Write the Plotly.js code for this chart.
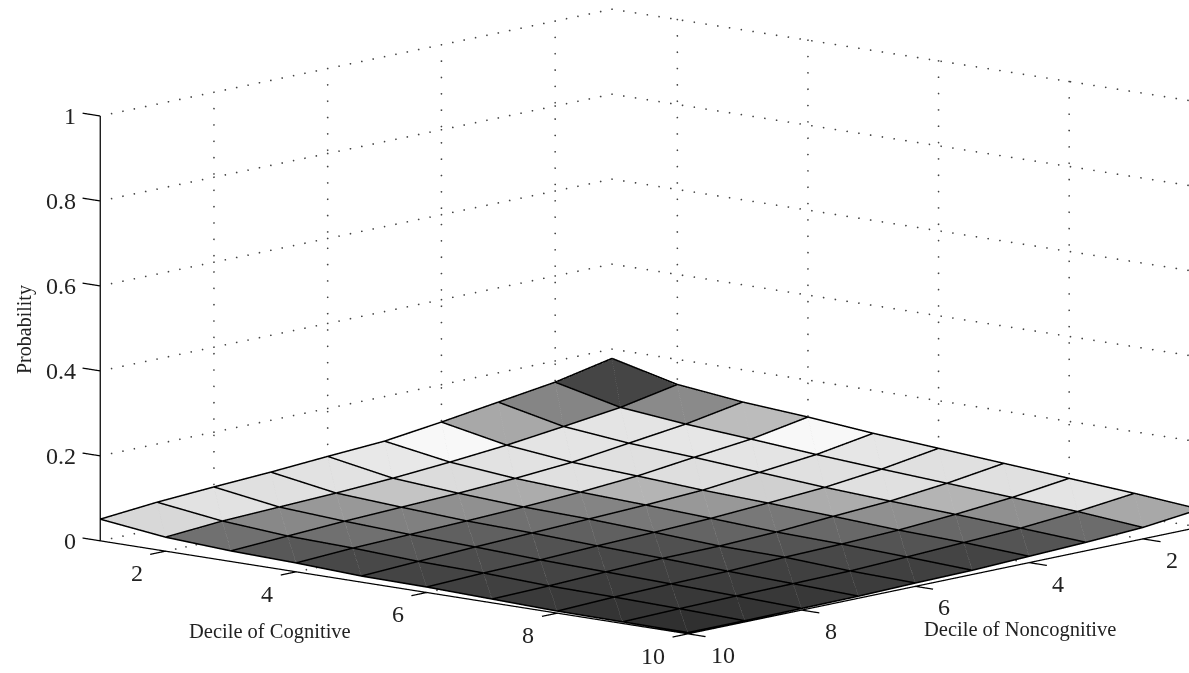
<!DOCTYPE html>
<html><head><meta charset="utf-8"><script src="https://cdn.plot.ly/plotly-3.0.1.min.js"></script>
<style>html,body{margin:0;padding:0;background:#fff;overflow:hidden}#g{width:1189px;height:673px}</style></head>
<body><div id="g"></div>
<script>
// rows: cognitive decile 1..10; columns: noncognitive decile 10..1
var cognitive=[1,2,3,4,5,6,7,8,9,10];
var noncognitive=[10,9,8,7,6,5,4,3,2,1];
var probability=[
[.049,.061,.069,.076,.085,.093,.110,.129,.148,.176],
[.031,.041,.046,.051,.058,.068,.080,.096,.113,.139],
[.023,.030,.037,.042,.047,.054,.064,.081,.098,.122],
[.019,.026,.030,.034,.039,.046,.056,.072,.087,.111],
[.0125,.019,.025,.030,.035,.040,.047,.061,.075,.097],
[.011,.016,.019,.024,.028,.033,.041,.050,.065,.086],
[.007,.010,.015,.019,.020,.025,.034,.042,.056,.075],
[.003,.008,.011,.013,.018,.021,.026,.035,.047,.064],
[.002,.005,.007,.008,.010,.015,.021,.027,.038,.053],
[.001,.001,.002,.003,.006,.008,.013,.018,.025,.040]];
// gray level of each cell
var cellGray=[
[0xD8,0xE2,0xE0,0xE2,0xE8,0xF8,0xA8,0x85,0x45],
[0x70,0x88,0x98,0xC4,0xDC,0xE2,0xE4,0xE4,0x8A],
[0x58,0x70,0x80,0x90,0xAC,0xE0,0xE0,0xE6,0xBC],
[0x48,0x58,0x60,0x70,0x84,0xB4,0xDE,0xE4,0xF8],
[0x44,0x4C,0x52,0x60,0x78,0x98,0xD0,0xE0,0xE6],
[0x40,0x44,0x48,0x50,0x64,0x78,0xAC,0xE0,0xE0],
[0x3A,0x3C,0x40,0x48,0x54,0x68,0x90,0xB4,0xE0],
[0x34,0x38,0x3C,0x40,0x48,0x54,0x68,0x90,0xE4],
[0x30,0x34,0x38,0x3C,0x40,0x44,0x54,0x6C,0xA8]];
var evenTicks=[2,4,6,8,10];
var zTicks=[0,0.2,0.4,0.6,0.8,1];
var zTickText=['0','0.2','0.4','0.6','0.8','1'];
var axisFont='"Liberation Serif",serif';

// mesh
var X=[],Y=[],Z=[],I=[],J=[],K=[],FC=[];
cognitive.forEach(function(c,a){noncognitive.forEach(function(n,k){X.push(n);Y.push(c);Z.push(probability[a][k]);});});
// faint seam across each cell
var dx=[],dy=[],dz=[];
cellGray.forEach(function(row,a){row.forEach(function(g,k){
  var p=a*10+k,q=a*10+k+1,r=(a+1)*10+k,s=(a+1)*10+k+1,col='rgb('+g+','+g+','+g+')';
  I.push(p,q);J.push(r,r);K.push(q,s);FC.push(col,col);
  dx.push(X[q],X[r],null);dy.push(Y[q],Y[r],null);dz.push(Z[q]+0.0012,Z[r]+0.0012,null);
});});
// edges
var ex=[],ey=[],ez=[];
cognitive.forEach(function(c,a){noncognitive.forEach(function(n,k){ex.push(n);ey.push(c);ez.push(probability[a][k]+0.002);});ex.push(null);ey.push(null);ez.push(null);});
noncognitive.forEach(function(n,k){cognitive.forEach(function(c,a){ex.push(n);ey.push(c);ez.push(probability[a][k]+0.002);});ex.push(null);ey.push(null);ez.push(null);});
// dotted grid, drawn as small round dots along each grid line
var gx=[],gy=[],gz=[];
function seg(a,b,n){for(var t=0;t<=n;t++){var f=t/n;gx.push(a[0]+(b[0]-a[0])*f);gy.push(a[1]+(b[1]-a[1])*f);gz.push(a[2]+(b[2]-a[2])*f);}}
[2,4,6,8].forEach(function(v){
  seg([v,1,0],[v,1,1],26);
  seg([1,v,0],[1,v,1],26);
  seg([v,1,0],[v,10,0],45);
  seg([1,v,0],[10,v,0],50);
});
zTicks.forEach(function(z){seg([9.8,1,z],[1,1,z],44);seg([1,1,z],[1,10,z],50);});
// solid axes + ticks
var ax=[],ay=[],az=[];
function sol(a,b){ax.push(a[0],b[0],null);ay.push(a[1],b[1],null);az.push(a[2],b[2],null);}
sol([10,1,0],[10,1,1]);sol([10,1,0],[10,10,0]);sol([1,10,0],[10,10,0]);
var tl=0.27;
evenTicks.forEach(function(v){sol([10,v,0],[10+tl,v,0]);sol([v,10,0],[v,10+tl,0]);});
zTicks.forEach(function(z){sol([10,1,z],[10,1-tl,z]);});

var traces=[
 {type:'mesh3d',x:X,y:Y,z:Z,i:I,j:J,k:K,facecolor:FC,flatshading:true,hoverinfo:'skip',
  lighting:{ambient:1,diffuse:0,specular:0,roughness:1,fresnel:0},lightposition:{x:0,y:0,z:1000}},
 {type:'scatter3d',mode:'lines',x:dx,y:dy,z:dz,line:{color:'#ccc',width:1},opacity:0.4,hoverinfo:'skip',connectgaps:false},
 {type:'scatter3d',mode:'lines',x:ex,y:ey,z:ez,line:{color:'#000',width:3},hoverinfo:'skip',connectgaps:false},
 {type:'scatter3d',mode:'markers',x:gx,y:gy,z:gz,marker:{color:'#444',size:1,line:{width:0}},hoverinfo:'skip'},
 {type:'scatter3d',mode:'lines',x:ax,y:ay,z:az,line:{color:'#000',width:2.5},hoverinfo:'skip',connectgaps:false}
];
// scene annotations
var anns=[];
evenTicks.forEach(function(v){
  var extra=v===10?6:0;
  anns.push({x:10,y:v,z:0,text:String(v),showarrow:false,xshift:-29-extra,yshift:-22,font:{family:axisFont,size:24,color:'#222'}});
  anns.push({x:v,y:10,z:0,text:String(v),showarrow:false,xshift:29+extra,yshift:-21,font:{family:axisFont,size:24,color:'#222'}});
});
zTicks.forEach(function(z,i){
  anns.push({x:10,y:1,z:z,text:zTickText[i],showarrow:false,xanchor:'right',xshift:-22,yshift:0,font:{family:axisFont,size:24,color:'#222'}});
});
// camera
var ca=0.7541,sa=0.6567,el=10.47*Math.PI/180;
var D=6,S=336.6;
var dir=[ca*Math.cos(el),sa*Math.cos(el),Math.sin(el)];
var r=[-sa,ca,0],u=[-Math.sin(el)*ca,-Math.sin(el)*sa,Math.cos(el)];
var dxp=55.5,dyp=15;
var cen=[0,1,2].map(function(i){return -(dxp/S)*r[i]-(dyp/S)*u[i];});
var eye=[0,1,2].map(function(i){return cen[i]+D*dir[i];});
var layout={
 width:1189,height:673,margin:{l:0,r:0,t:0,b:0},paper_bgcolor:'#fff',showlegend:false,
 font:{family:axisFont},
 scene:{domain:{x:[0,1],y:[0,1]},
  xaxis:{range:[0.6,10.4],visible:false},
  yaxis:{range:[0.6,10.4],visible:false},
  zaxis:{range:[-0.05,1.05],visible:false},
  aspectmode:'manual',aspectratio:{x:2.5219,y:2.5219,z:1.4123},
  camera:{projection:{type:'orthographic'},up:{x:0,y:0,z:1},
   center:{x:cen[0],y:cen[1],z:cen[2]},eye:{x:eye[0],y:eye[1],z:eye[2]}},
  annotations:anns},
 annotations:[
  {xref:'paper',yref:'paper',x:270/1189,y:1-631/673,xanchor:'center',yanchor:'middle',text:'Decile of Cognitive',showarrow:false,font:{family:axisFont,size:20.5,color:'#222'}},
  {xref:'paper',yref:'paper',x:1020/1189,y:1-629/673,xanchor:'center',yanchor:'middle',text:'Decile of Noncognitive',showarrow:false,font:{family:axisFont,size:20.5,color:'#222'}},
  {xref:'paper',yref:'paper',x:24/1189,y:1-330/673,xanchor:'center',yanchor:'middle',text:'Probability',textangle:-90,showarrow:false,font:{family:axisFont,size:20,color:'#222'}}
 ]
};
Plotly.newPlot('g',traces,layout,{displayModeBar:false});
</script></body></html>
